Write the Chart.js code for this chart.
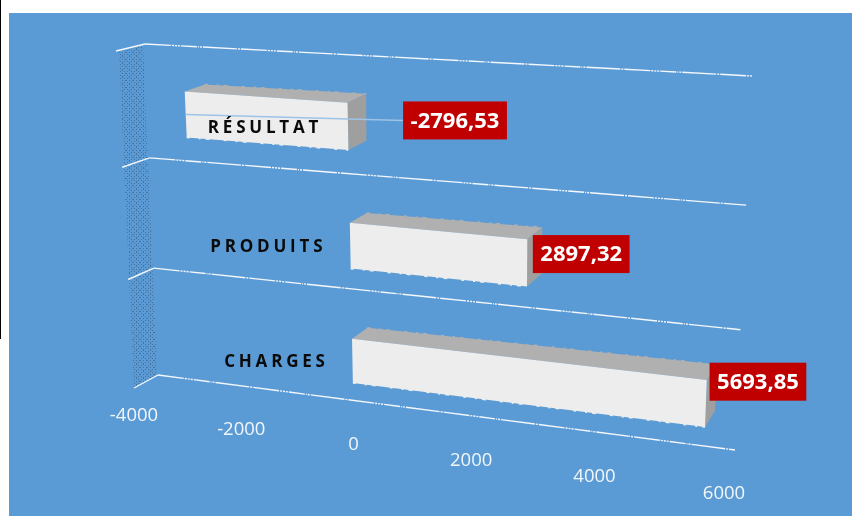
<!DOCTYPE html>
<html>
<head>
<meta charset="utf-8">
<style>
  html, body { margin: 0; padding: 0; background: #fff; overflow: hidden; }
  #fond { position: absolute; left: 9px; top: 13px; width: 843px; height: 503px; background: #5b9bd5; }
  #trait { position: absolute; left: 0; top: 0; width: 1px; height: 339px; background: #000; }
  #levelChart { position: absolute; left: 0; top: 0; }
</style>
</head>
<body>
<div id="fond"></div>
<div id="trait"></div>
<canvas id="levelChart" width="852" height="516"></canvas>
<script src="https://cdn.jsdelivr.net/npm/chart.js@4"></script>
<script>
const categories = ['CHARGES', 'PRODUITS', 'RÉSULTAT'];
const values = [5693.85, 2897.32, -2796.53];
const tickValues = [-4000, -2000, 0, 2000, 4000, 6000];

// coins de la perspective : haut-gauche, haut-droit, bas-droit, bas-gauche
const frontQuad = [[116, 51], [739, 89], [724, 466], [134, 388]];
const backQuad = [[137, 45], [754, 76], [733, 449], [151, 379]];
const gridQuad = [[145, 44], [752, 76], [735, 450], [158, 375]];
const wallQuad = [[119, 52], [143, 45], [157, 374], [134, 388]];

// decalage des etiquettes, meme ordre que categories
const catLabelDx = [-76, -82, -83];
const boxOffsets = [[52, -22], [54, -9], [107, -6]];

// carre unite vers quadrilatere
function makeHomography(q) {
    const [p0, p1, p2, p3] = q;
    const dx1 = p1[0] - p2[0], dx2 = p3[0] - p2[0], sx = p0[0] - p1[0] + p2[0] - p3[0];
    const dy1 = p1[1] - p2[1], dy2 = p3[1] - p2[1], sy = p0[1] - p1[1] + p2[1] - p3[1];
    const det = dx1 * dy2 - dx2 * dy1;
    const g = (sx * dy2 - dx2 * sy) / det;
    const h = (dx1 * sy - sx * dy1) / det;
    const a = p1[0] - p0[0] + g * p1[0], b = p3[0] - p0[0] + h * p3[0], c = p0[0];
    const d = p1[1] - p0[1] + g * p1[1], e = p3[1] - p0[1] + h * p3[1], f = p0[1];
    return (s, t) => {
        const w = g * s + h * t + 1;
        return [(a * s + b * t + c) / w, (d * s + e * t + f) / w];
    };
}

const front = makeHomography(frontQuad);
const back = makeHomography(backQuad);
const grid = makeHomography(gridQuad);

function poly(ctx, pts, color) {
    ctx.beginPath();
    pts.forEach((p, i) => i ? ctx.lineTo(p[0], p[1]) : ctx.moveTo(p[0], p[1]));
    ctx.closePath();
    ctx.fillStyle = color;
    ctx.fill();
}

function seg(ctx, a, b) {
    ctx.beginPath();
    ctx.moveTo(a[0], a[1]);
    ctx.lineTo(b[0], b[1]);
    ctx.stroke();
}

// petites dents le long d'une arete, comme dans l'image d'origine
function rough(ctx, a, b, color) {
    ctx.strokeStyle = color;
    ctx.lineWidth = 1.6;
    ctx.setLineDash([3, 9, 2, 5, 4, 14]);
    seg(ctx, a, b);
    ctx.setLineDash([]);
}

function hatchPattern(ctx) {
    const tile = document.createElement('canvas');
    tile.width = 7;
    tile.height = 7;
    const t = tile.getContext('2d');
    t.fillStyle = 'rgba(58, 88, 125, 0.6)';
    [[1, 1], [5, 1], [3, 3], [1, 5], [5, 5], [3, 0], [0, 3], [6, 3], [3, 6]].forEach(p => t.fillRect(p[0], p[1], 1, 1));
    return ctx.createPattern(tile, 'repeat');
}

const perspective3d = {
    id: 'perspective3d',
    beforeDatasetsDraw(chart) {
        const ctx = chart.ctx;
        const area = chart.chartArea;
        const xScale = chart.scales.x;
        const yScale = chart.scales.y;
        const toS = px => (px - area.left) / area.width;
        const toT = py => (py - area.top) / area.height;
        const bars = chart.getDatasetMeta(0).data;

        ctx.save();

        // mur hachure a gauche
        poly(ctx, wallQuad, hatchPattern(ctx));

        // lignes de separation entre categories
        const band = area.height / categories.length;
        ctx.strokeStyle = '#f4f8fc';
        ctx.lineWidth = 1.4;
        for (let i = 0; i <= categories.length; i++) {
            const t = i * band / area.height;
            ctx.setLineDash([]);
            seg(ctx, front(0, t), grid(0, t));
            ctx.setLineDash([26, 1, 2, 1, 2, 1, 2, 1, 16, 1, 1, 1, 2, 1, 34, 1, 2, 1]);
            seg(ctx, grid(0, t), grid(1, t));
        }
        ctx.setLineDash([]);

        // barres, de haut en bas
        bars.map((b, i) => i).reverse().forEach(i => {
            const b = bars[i];
            const s0 = toS(Math.min(b.base, b.x)), s1 = toS(Math.max(b.base, b.x));
            const t0 = toT(b.y - b.height / 2), t1 = toT(b.y + b.height / 2);
            poly(ctx, [front(s0, t0), front(s1, t0), back(s1, t0), back(s0, t0)], '#b0b0b0');
            poly(ctx, [front(s1, t0), front(s1, t1), back(s1, t1), back(s1, t0)], '#9f9f9f');
            poly(ctx, [front(s0, t0), front(s1, t0), front(s1, t1), front(s0, t1)], '#ededed');
            rough(ctx, back(s0, t0), back(s1, t0), '#b0b0b0');
            rough(ctx, front(s0, t1), front(s1, t1), '#ededed');
        });

        // etiquettes de valeur
        bars.forEach((b, i) => {
            const tm = toT(b.y);
            const anchor = front(toS(Math.max(b.base, b.x)), tm);
            const cx = anchor[0] + boxOffsets[i][0];
            const cy = anchor[1] + boxOffsets[i][1];
            const text = values[i].toFixed(2).replace('.', ',');
            ctx.font = 'bold 22px "Open Sans"';
            const w = ctx.measureText(text).width + 15;
            const h = 38;
            if (values[i] < 0) {
                ctx.strokeStyle = '#9dc3e6';
                ctx.lineWidth = 1.4;
                seg(ctx, front(toS(b.x), tm), [cx - w / 2, cy]);
            }
            ctx.fillStyle = '#c00000';
            ctx.fillRect(cx - w / 2, cy - h / 2, w, h);
            ctx.fillStyle = '#fff';
            ctx.textAlign = 'center';
            ctx.textBaseline = 'middle';
            ctx.fillText(text, cx, cy + 1);
        });

        // noms de categories
        ctx.font = 'bold 17px "Open Sans"';
        ctx.letterSpacing = '3.8px';
        ctx.fillStyle = '#0a0a0a';
        categories.forEach((name, i) => {
            const p = front(toS(xScale.getPixelForValue(0)), toT(yScale.getPixelForValue(i)));
            ctx.fillText(name, p[0] + catLabelDx[i], p[1] + 1.5);
        });
        ctx.letterSpacing = '0px';

        // graduations de l'axe
        ctx.font = '18.5px "Open Sans"';
        ctx.fillStyle = '#f2f6fb';
        xScale.ticks.forEach(tick => {
            const p = front(toS(xScale.getPixelForValue(tick.value)), 1);
            ctx.fillText(tick.label, p[0], p[1] + 28);
        });

        ctx.restore();
        return false;
    }
};

new Chart(document.getElementById('levelChart').getContext('2d'), {
    type: 'bar',
    data: {
        labels: categories,
        datasets: [{
            data: values,
            backgroundColor: '#ededed',
            barPercentage: 0.39,
            categoryPercentage: 1
        }]
    },
    options: {
        indexAxis: 'y',
        responsive: false,
        animation: false,
        plugins: { legend: { display: false }, tooltip: { enabled: false } },
        scales: {
            x: {
                min: tickValues[0],
                max: tickValues[tickValues.length - 1],
                grid: { display: false },
                border: { display: false },
                ticks: { display: false, stepSize: 2000, callback: v => String(v) }
            },
            y: {
                reverse: true,
                grid: { display: false },
                border: { display: false },
                ticks: { display: false }
            }
        }
    },
    plugins: [perspective3d]
});
</script>
</body>
</html>
